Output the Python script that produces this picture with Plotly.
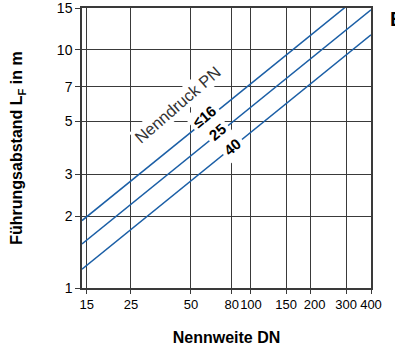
import numpy as np
import plotly.graph_objects as go

# Data
dn_ends = [14.2, 400]
pn16 = [1.92, 18.5]
pn25 = [1.53, 14.75]
pn40 = [1.20, 11.57]

x_ticks = [15, 25, 50, 80, 100, 150, 200, 300, 400]
x_ticktext = ["15", "25", "50", "80", "100", "150",
              "\u00a0\u00a0200", "300", "400"]
y_ticks = [1, 2, 3, 5, 7, 10, 15]

labels = ["≤16", "25", "40"]
label_x = [58.5, 68.2, 81.0]
label_y = [5.24, 4.54, 3.92]

BLUE = "#1b5fa6"
GRID = "#3a3a3a"
FONT = "Liberation Sans, Arial, sans-serif"

fig = go.Figure()
for ys in (pn16, pn25, pn40):
    fig.add_trace(go.Scatter(x=dn_ends, y=ys, mode="lines",
                             line=dict(color=BLUE, width=1.5),
                             showlegend=False, hoverinfo="skip"))

annotations = [
    dict(x=np.log10(42.6), y=np.log10(5.87), xref="x", yref="y",
         text="Nenndruck PN", showarrow=False, textangle=-41,
         font=dict(family=FONT, size=16.5, color="#333"),
         bgcolor="white", borderpad=1),
]
for t, lx, ly in zip(labels, label_x, label_y):
    annotations.append(dict(x=np.log10(lx), y=np.log10(ly), xref="x", yref="y",
                            text=f"<b>{t}</b>", showarrow=False, textangle=-40,
                            font=dict(family=FONT, size=15, color="black"),
                            bgcolor="white", borderpad=3))
annotations.append(dict(x=1.058, y=0.959, xref="paper", yref="paper",
                        text="<b>B</b>", showarrow=False, xanchor="left",
                        yanchor="middle",
                        font=dict(family=FONT, size=20, color="black")))

fig.update_layout(
    width=395, height=346,
    margin=dict(l=82, r=24, t=8, b=58),
    paper_bgcolor="white", plot_bgcolor="white",
    annotations=annotations,
    font=dict(family=FONT, color="black"),
    xaxis=dict(type="log", range=[np.log10(14.2), np.log10(400)],
               tickvals=x_ticks, ticktext=x_ticktext,
               tickangle=0, automargin=False,
               showgrid=True, gridcolor=GRID, gridwidth=1.3,
               showline=True, linecolor=GRID, linewidth=1.5, mirror=True,
               ticks="outside", ticklen=4, tickcolor=GRID, tickwidth=1.3,
               tickfont=dict(size=13, family=FONT),
               title=dict(text="<b>Nennweite DN</b>", font=dict(size=16, family=FONT),
                          standoff=21),
               zeroline=False),
    yaxis=dict(type="log", range=[0, np.log10(15)],
               tickvals=y_ticks, ticktext=[str(v) for v in y_ticks],
               tickangle=0, automargin=False,
               showgrid=True, gridcolor=GRID, gridwidth=1.3,
               showline=True, linecolor=GRID, linewidth=1.5, mirror=True,
               ticks="outside", ticklen=5, tickcolor=GRID, tickwidth=1.3,
               tickfont=dict(size=14, family=FONT),
               title=dict(text="<b>Führungsabstand L<sub>F</sub> in m</b>",
                          font=dict(size=16, family=FONT), standoff=30),
               zeroline=False),
)

fig.write_html("out.html", config={"displayModeBar": False},
               post_script="document.body.style.margin='0';")
